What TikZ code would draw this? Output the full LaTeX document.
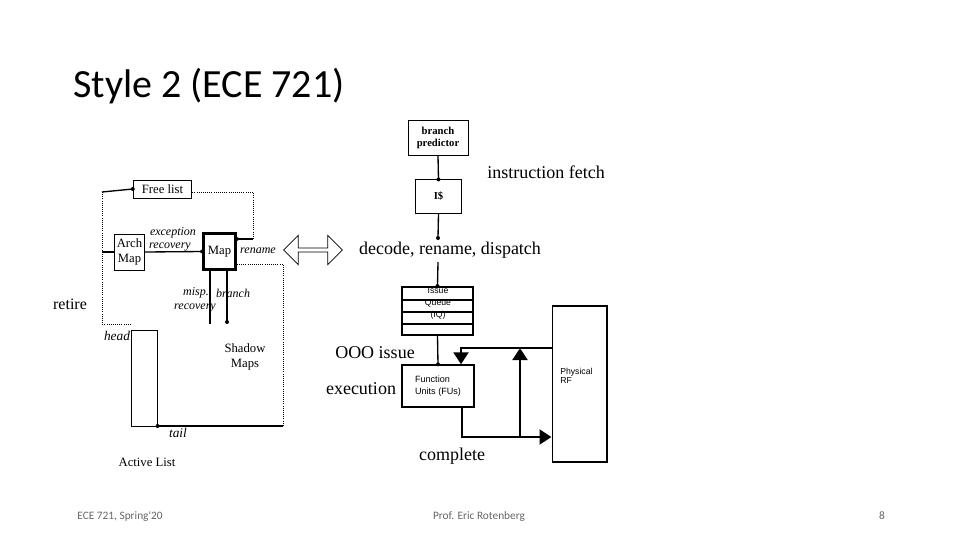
\documentclass[tikz,border=0pt]{standalone}
\usepackage{fontspec}
\setmainfont{Liberation Serif}
\newfontfamily\titlefont{Carlito}
\newfontfamily\sansfont{Liberation Sans}
\usetikzlibrary{arrows.meta,shapes.arrows}
\begin{document}
\begin{tikzpicture}[x=0.75pt,y=-0.75pt,
  box/.style={draw,line width=0.6pt,inner sep=0pt},
  thk/.style={line width=2.2pt},
  wire/.style={line width=1pt},
  dots/.style={densely dotted,line width=0.6pt},
  dot/.style={circle,fill,inner sep=0pt,minimum size=3pt},
  lab/.style={font=\fontsize{11}{12}\selectfont,inner sep=0pt},
  ital/.style={font=\fontsize{9}{10}\selectfont\itshape,inner sep=0pt},
  big/.style={font=\fontsize{13.5}{15}\selectfont,inner sep=0pt},
  sml/.style={font=\sansfont\fontsize{6.5}{7}\selectfont,inner sep=0pt},
  foot/.style={font=\titlefont\fontsize{8.5}{10}\selectfont,text=gray!80!black,inner sep=0pt}]
\useasboundingbox (0,0) rectangle (960,540);
\fill[white] (0,0) rectangle (960,540);

% title and footer
\node[anchor=base west,font=\titlefont\fontsize{30}{34}\selectfont,inner sep=0pt] (title) at (73,97) {Style 2 (ECE 721)};
\node[foot,anchor=base] (f1) at (120,519) {ECE 721, Spring'20};
\node[foot,anchor=base] (f2) at (479,519) {Prof. Eric Rotenberg};
\node[foot,anchor=base] (f3) at (882,519) {8};

% front end
\node[box,minimum width=45pt,minimum height=26pt,align=center,font=\fontsize{8}{9}\selectfont\bfseries] (bp) at (438,138) {branch\\predictor};
\node[box,minimum width=35pt,minimum height=25pt,font=\fontsize{8}{9}\selectfont\bfseries] (ic) at (438.5,196.5) {I\$};
\node[big,anchor=base west] (fetch) at (487,178) {instruction fetch};
\node[big] (dec) at (450,250) {decode, rename, dispatch};
\coordinate (dect) at (438,238);
\coordinate (decb) at (438,262);
\draw[wire] (bp.south) -- (ic.north) node[dot]{};
\draw[wire] (ic.south) -- (dect) node[dot]{};

% issue queue
\node[box,line width=1.4pt,minimum width=53pt,minimum height=36pt] (iq) at (437.5,311) {};
\draw[line width=1pt] (402,300) -- (473,300) (402,312) -- (473,312) (402,324) -- (473,324);
\node[sml] (iq1) at (438,291) {Issue};
\node[sml] (iq2) at (438,303) {Queue};
\node[sml] (iq3) at (438,315.5) {(IQ)};
\draw[wire] (decb) -- (iq.north) node[dot]{};

% function units and RF
\node[box,line width=1pt,minimum width=54pt,minimum height=31.5pt,align=left,font=\sansfont\fontsize{6.8}{9}\selectfont] (fu) at (438,386) {Function\\Units (FUs)};
\node[box,line width=1pt,minimum width=41pt,minimum height=117pt] (rf) at (579.5,384) {};
\node[sml,align=left,anchor=west] (rft) at (560,376) {Physical\\RF};
\draw[wire] (iq.south) -- (fu.north) node[dot]{};
\coordinate (fuin) at (461,348);
\coordinate (fuo) at (462,437);
\coordinate (jn) at (520,437);
\coordinate (jt) at (520,348);
\draw[thk,-{Triangle[length=9pt,width=11pt]}] (rf.west |- fuin) -- (fuin) -- (fuin |- fu.north);
\draw[thk,-{Triangle[length=9pt,width=11pt]}] (fuo |- fu.south) -- (fuo) -- (rf.west |- fuo);
\draw[thk,-{Triangle[length=9pt,width=11pt]}] (jn) -- (jt);
\node[big] (ooo) at (375,353) {OOO issue};
\node[big] (exe) at (361,389) {execution};
\node[big] (cmp) at (452,456) {complete};

% rename section
\node[box,minimum width=44pt,minimum height=13.5pt,font=\fontsize{9.5}{10}\selectfont] (fl) at (162.5,189) {Free list};
\node[box,minimum width=23pt,minimum height=27pt,align=center,font=\fontsize{9.5}{11}\selectfont] (arch) at (129.5,252) {Arch\\Map};
\node[box,line width=2pt,minimum width=24pt,minimum height=27pt,font=\fontsize{9.5}{10}\selectfont] (map) at (219.5,251.5) {Map};
\node[box,minimum width=19pt,minimum height=72pt] (al) at (144.5,378.5) {};
\foreach \i in {0,1,2,3}
  \fill[white,draw,line width=0.6pt] ({204+6*\i},{324+6*\i}) rectangle ({234+6*\i},{360+6*\i});
\node[align=center,font=\fontsize{9.5}{11}\selectfont,inner sep=0pt] (sh) at (245,357) {Shadow\\Maps};
\coordinate (shtop) at (204,324);

\coordinate (lt) at (102,192);
\coordinate (lb) at (102,324);
\coordinate (fr) at (253,192);
\coordinate (frb) at (253,239);
\coordinate (mr) at (283,264);
\coordinate (mrb) at (283,426);
\draw[wire] (lt) -- (fl.west) node[dot]{};
\draw[dots] (lt) -- (lb) -- (al.west |- lb);
\draw[dots] (fl.east |- fr) -- (fr) -- (frb);
\draw[wire] (frb) -- (map.east |- frb) node[dot]{};
\draw[wire] (lt |- arch) -- (arch.west);
\draw[wire] (arch.east) -- (map.west) node[dot]{};
\draw[dots] (map.east |- mr) -- (mr) -- (mrb);
\draw[wire] (mrb) -- (al.east |- mrb) node[dot]{};
\draw[thk,line width=1.8pt] (210,270) -- (210,324);
\draw[thk,line width=1.8pt] (227,270) -- (227,322) node[dot]{};

\node[ital] (ex1) at (173,233) {exception};
\node[ital] (ex2) at (170,247) {recovery};
\node[ital] (ren) at (258,251) {rename};
\node[ital] (m1) at (196,293) {misp.};
\node[ital] (m2) at (233,293) {branch};
\node[ital] (m3) at (195,308) {recovery};
\node[ital,font=\fontsize{10}{11}\selectfont\itshape] (hd) at (117,336) {head};
\node[ital,font=\fontsize{10}{11}\selectfont\itshape] (tl) at (178,433) {tail};
\node[font=\fontsize{9.5}{10}\selectfont,inner sep=0pt] (alt) at (147,462) {Active List};
\node[font=\fontsize{12}{13}\selectfont,inner sep=0pt] (ret) at (70,304) {retire};

% double arrow
\node[double arrow,draw,line width=0.6pt,minimum width=22pt,double arrow head extend=2pt,minimum height=44pt,inner sep=0pt] (da) at (313,250) {};
\end{tikzpicture}
\end{document}
